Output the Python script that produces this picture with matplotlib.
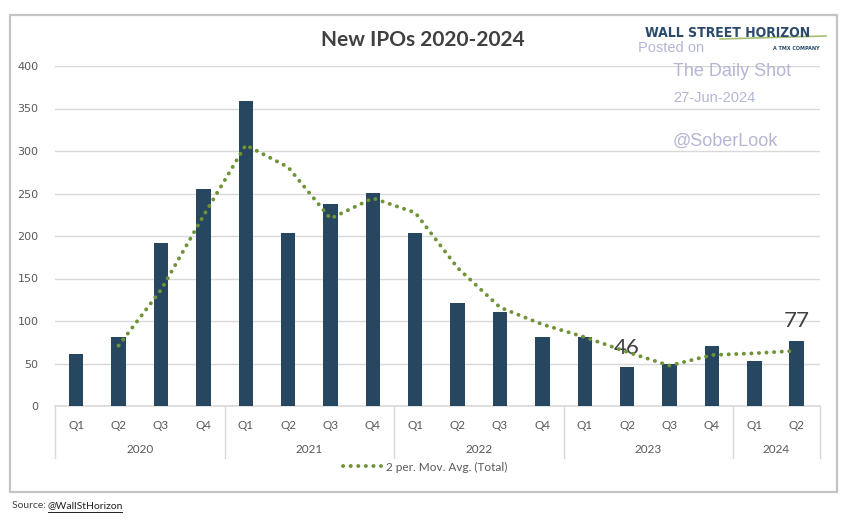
import matplotlib
matplotlib.use("Agg")
import matplotlib.pyplot as plt
from matplotlib.lines import Line2D
from matplotlib.patches import Rectangle
from matplotlib.transforms import blended_transform_factory

# --- data ---
quarters = ["Q1", "Q2", "Q3", "Q4"] * 4 + ["Q1", "Q2"]
years = ["2020", "2021", "2022", "2023", "2024"]
year_counts = [4, 4, 4, 4, 2]
ipos = [61, 81, 192, 255, 359, 203, 238, 251, 204, 121, 111, 81, 81, 46, 49, 71, 53, 77]
mov_avg = [None, 71, 136.5, 223.5, 307, 281, 220.5, 244.5, 227.5, 162.5, 116, 96, 81, 63.5, 47.5, 60, 62, 65]
callouts = {13: "46", 17: "77"}
yticks = [0, 50, 100, 150, 200, 250, 300, 350, 400]

BAR_COLOR = "#27465f"
MA_COLOR = "#6f9339"
TEXT_GRAY = "#595959"
GRID_GRAY = "#d9d9d9"
WM_COLOR = "#b4b6d4"

W, H = 856, 525
fig = plt.figure(figsize=(W / 100, H / 100), dpi=100)
fig.patch.set_facecolor("white")

# outer chart border
fig.patches.append(Rectangle((10 / W, 1 - 492 / H), 827 / W, 477 / H, transform=fig.transFigure,
                             fill=False, edgecolor="#c4c4c4", linewidth=1.6))

ax = fig.add_axes([55 / W, 1 - 406 / H, (820 - 55) / W, (406 - 66) / H])
x = list(range(len(ipos)))
ax.bar(x, ipos, width=0.34, color=BAR_COLOR, zorder=3)
ma_x = [i for i, v in enumerate(mov_avg) if v is not None]
ma_y = [v for v in mov_avg if v is not None]
ax.plot(ma_x, ma_y, color=MA_COLOR, linestyle=(0, (0.05, 1.9)), linewidth=2.8,
        dash_capstyle="round", solid_capstyle="round", zorder=4,
        label="2 per. Mov. Avg. (Total)")

ax.set_xlim(-0.5, len(ipos) - 0.45)
ax.set_ylim(0, 400)
ax.set_yticks(yticks)
ax.yaxis.grid(True, color=GRID_GRAY, linewidth=1.0, zorder=0)
ax.tick_params(axis="y", length=0, pad=12, labelsize=8, labelcolor=TEXT_GRAY)
for sp in ["top", "right", "left"]:
    ax.spines[sp].set_visible(False)
ax.spines["bottom"].set_color(GRID_GRAY)
ax.spines["bottom"].set_linewidth(1.2)

ax.set_xticks(x)
ax.set_xticklabels(quarters, fontsize=8.5, color=TEXT_GRAY, family="Lato")
ax.tick_params(axis="x", length=0, pad=10)

# year groups and separators
trans = blended_transform_factory(ax.transData, ax.transAxes)
bounds = [-0.5]
for cnt in year_counts:
    bounds.append(bounds[-1] + cnt)
bounds[-1] = len(ipos) - 0.45
for b in bounds:
    ax.add_line(Line2D([b, b], [0, -0.153], transform=trans, color=GRID_GRAY,
                       linewidth=1.0, clip_on=False))
for yr, lo, hi in zip(years, bounds[:-1], bounds[1:]):
    ax.text((lo + hi) / 2, -0.127, yr, transform=trans, ha="center", va="center",
            fontsize=8.5, color=TEXT_GRAY, family="Lato")

for i, lab in callouts.items():
    ax.text(i, ipos[i] + 11, lab, ha="center", va="bottom", fontsize=16,
            color="#404040", family="Lato")

fig.legend(loc="center", bbox_to_anchor=(425 / W, 1 - 467 / H), frameon=False,
           prop={"family": "Lato", "size": 8.5}, labelcolor=TEXT_GRAY,
           handlelength=3.2, handletextpad=0.4)

fig.text(423 / W, 1 - 40 / H, "New IPOs 2020-2024", ha="center", va="center",
         fontsize=15, fontweight="bold", color="#404040", family="Lato")

# logo
fig.add_artist(Line2D([720 / W, 826 / W], [1 - 39 / H, 1 - 36 / H], color="#8db04c",
                      linewidth=1.2, alpha=0.8))
fig.text(728 / W, 1 - 33 / H, "WALL STREET HORIZON", ha="center", va="center",
         fontsize=10, fontweight="bold", color="#2b4a6a", fontstretch="condensed",
         family=["Liberation Sans Narrow", "DejaVu Sans"])
fig.text(796 / W, 1 - 49 / H, "A TMX COMPANY", ha="center", va="center",
         fontsize=3.5, fontweight="bold", color="#2b4a6a")

# watermark
fig.text(638 / W, 1 - 48 / H, "Posted on", ha="left", va="center", fontsize=10.5,
         color=WM_COLOR, family="Liberation Sans")
fig.text(673 / W, 1 - 72 / H, "The Daily Shot", ha="left", va="center", fontsize=13,
         color=WM_COLOR, family="Liberation Sans")
fig.text(673 / W, 1 - 98 / H, "27-Jun-2024", ha="left", va="center", fontsize=10.5,
         color=WM_COLOR, family="Liberation Sans")
fig.text(673 / W, 1 - 141 / H, "@SoberLook", ha="left", va="center", fontsize=13,
         color=WM_COLOR, family="Liberation Sans")

# source line
fig.text(12 / W, 1 - 506 / H, "Source: ", ha="left", va="center", fontsize=7.5,
         color="#404040", family="Lato")
fig.text(48 / W, 1 - 506 / H, "@WallStHorizon", ha="left", va="center",
         fontsize=7.5, color="#202020", family="Lato")
fig.add_artist(Line2D([48 / W, 122 / W], [1 - 512 / H, 1 - 512 / H], color="#202020",
                      linewidth=0.7))

fig.savefig("out.png", dpi=100)
